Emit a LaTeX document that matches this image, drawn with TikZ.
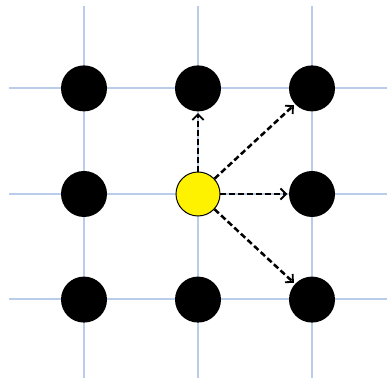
\documentclass[tikz,border=0pt]{standalone}
\usepackage{xcolor}
\usepackage{tikz}
\usetikzlibrary{arrows.meta, positioning}

\definecolor{gridblue}{RGB}{185,205,235}

\begin{document}
\begin{tikzpicture}[
    node distance=2.64cm and 2.85cm,
    on grid,
    dot/.style={
        circle,
        fill=black,
        inner sep=0pt,
        minimum size=1.15cm
    },
    agent/.style={
        circle,
        draw=black,
        line width=0.7pt,
        fill=yellow,
        inner sep=0pt,
        minimum size=1.1cm
    },
    gridline/.style={draw=gridblue, line width=0.8pt},
    move/.style={draw, line width=1.8pt, dash pattern=on 4.2pt off 2.2pt,
        -{Straight Barb[length=4pt,width=8pt,line width=1.3pt]}, shorten >=1pt}
]

\useasboundingbox (0,0) rectangle (9.675,9.45);

% grid
\foreach \x in {2.1,4.95,7.8}
    \draw[gridline] (\x,0) -- (\x,9.3);
\foreach \y in {1.975,4.6,7.25}
    \draw[gridline] (0.225,\y) -- (9.675,\y);

\node[agent] (c) at (4.95,4.6) {};
\node[dot, above=of c] (n) {};
\node[dot, below=of c] (s) {};
\node[dot, left=of c] (w) {};
\node[dot, right=of c] (e) {};
\node[dot, above left=of c] (nw) {};
\node[dot, above right=of c] (ne) {};
\node[dot, below left=of c] (sw) {};
\node[dot, below right=of c] (se) {};

\draw[move] (c) -- (n);
\draw[move] (c) -- (ne);
\draw[move] (c) -- (e);
\draw[move] (c) -- (se);

\end{tikzpicture}
\end{document}
